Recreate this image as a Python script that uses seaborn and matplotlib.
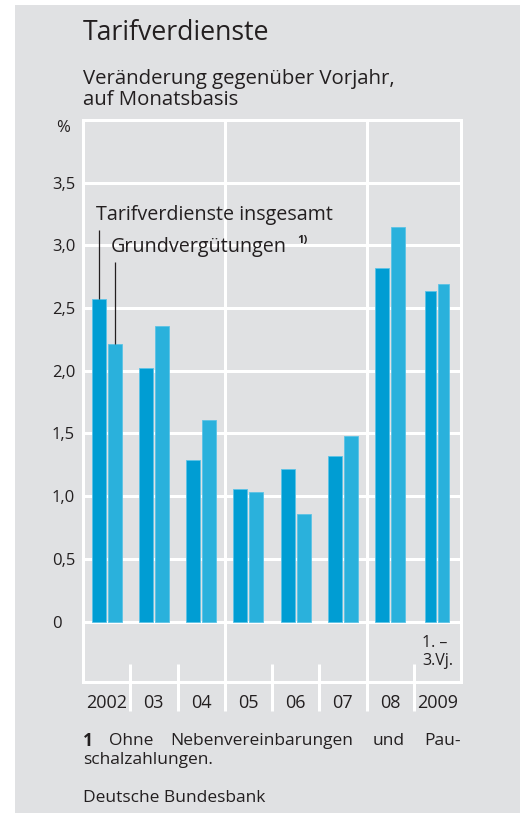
import pandas as pd
import matplotlib.pyplot as plt
import seaborn as sns
from matplotlib.patches import Rectangle

# Data (Veränderung gegenüber Vorjahr in %)
jahre = ["2002", "03", "04", "05", "06", "07", "08", "2009"]
insgesamt = [2.57, 2.02, 1.29, 1.06, 1.22, 1.32, 2.82, 2.64]
grund = [2.21, 2.36, 1.61, 1.03, 0.86, 1.48, 3.15, 2.69]
reihen = ["Tarifverdienste insgesamt", "Grundvergütungen"]
y_ticks = [0, 0.5, 1.0, 1.5, 2.0, 2.5, 3.0, 3.5]
y_labels = ["0", "0,5", "1,0", "1,5", "2,0", "2,5", "3,0", "3,5"]

df = pd.DataFrame({
    "jahr": jahre * 2,
    "wert": insgesamt + grund,
    "reihe": [reihen[0]] * len(jahre) + [reihen[1]] * len(jahre),
})

# Style
sns.set_style("white")
plt.rcParams["font.family"] = ["Open Sans", "DejaVu Sans"]
bg = "#e0e1e3"
dark = "#009dd3"
light = "#2ab1dc"
txt = "#231f20"

fig = plt.figure(figsize=(5.2, 8.13), dpi=100)
fig.patches.append(Rectangle((15 / 520, 0), 1, 1 - 5 / 813, transform=fig.transFigure,
                             facecolor=bg, edgecolor="none", zorder=-10))
ax = fig.add_axes([83 / 520, 1 - 682 / 813, 378 / 520, 562 / 813])
ax.set_facecolor(bg)

sns.barplot(data=df, x="jahr", y="wert", hue="reihe", order=jahre,
            palette=[dark, light], saturation=1, width=0.676, gap=0.125,
            edgecolor="#5cc3e6", linewidth=0.6, legend=False, ax=ax, zorder=3)

# 2009 (1.-3. Vj.) bars are narrower
for p in ax.patches:
    cx = p.get_x() + p.get_width() / 2
    if cx > 6.5:
        off = -0.139 if cx < 7 else 0.139
        p.set_width(0.233)
        p.set_x(7 + off - 0.233 / 2)

ymin, ymax = -0.482, 4.0
ax.set_xlim(-0.5, 7.5)
ax.set_ylim(ymin, ymax)
for s in ax.spines.values():
    s.set_visible(False)

# white frame and grid
lw = 2.2
ax.hlines(y_ticks + [ymax, ymin], -0.5, 7.5, color="white", lw=lw, zorder=1,
          capstyle="projecting", clip_on=False)
ax.vlines([-0.5, 7.5], ymin, ymax, color="white", lw=lw, zorder=1,
          capstyle="projecting", clip_on=False)
ax.vlines([2.5, 5.5], -0.71, ymax, color="white", lw=lw, zorder=1, clip_on=False)
ax.vlines([0.5, 1.5, 3.5, 4.5, 6.5], -0.71, -0.335, color="white", lw=lw,
          zorder=1, clip_on=False)

# ticks
ax.set_yticks(y_ticks)
ax.set_yticklabels(y_labels)
ax.tick_params(axis="y", length=0, pad=22.3, labelsize=12, labelcolor=txt)
for lab in ax.get_yticklabels():
    lab.set_horizontalalignment("left")
ax.set_xticks(range(len(jahre)))
ax.set_xticklabels(jahre)
ax.tick_params(axis="x", length=0, pad=15, labelsize=13, labelcolor=txt)
for lab in ax.get_xticklabels():
    lab.set_verticalalignment("center")
ax.set_xlabel("")
ax.set_ylabel("")

# labels for the series
ax.vlines(-0.169, insgesamt[0], 3.12, color=txt, lw=0.9, zorder=4)
ax.vlines(0.169, grund[0], 2.87, color=txt, lw=0.9, zorder=4)
ax.text(-0.224, 3.24, reihen[0], fontsize=14.2, color=txt, va="center", ha="left")
ax.text(0.093, 2.985, reihen[1], fontsize=14.2, color=txt, va="center", ha="left")
ax.text(4.03, 3.04, "1)", fontsize=8, color=txt, va="center", ha="left", fontweight="bold")
ax.text(6.675, -0.245, "1. \u2013\n3.Vj.", fontsize=11.5, color=txt, va="center", ha="left",
        linespacing=1.2)

# titles
fig.text(83 / 520, 1 - 33 / 813, "Tarifverdienste", fontsize=19.2, color=txt, va="center")
fig.text(83 / 520, 1 - 89.5 / 813, "Veränderung gegenüber Vorjahr,\nauf Monatsbasis",
         fontsize=14.7, color=txt, va="center", linespacing=1.1)
fig.text(56 / 520, 1 - 128 / 813, "%", fontsize=12, color=txt, va="center")

# footnote (justified first line)
fs = 12.5
fy = 1 - 741 / 813
fig.text(83 / 520, fy, "1", fontsize=fs, color=txt, va="center", fontweight="bold")
fig.text(109 / 520, fy, "Ohne", fontsize=fs, color=txt, va="center")
fig.text(170 / 520, fy, "Nebenvereinbarungen", fontsize=fs, color=txt, va="center")
fig.text(373 / 520, fy, "und", fontsize=fs, color=txt, va="center")
fig.text(461 / 520, fy, "Pau-", fontsize=fs, color=txt, va="center", ha="right")
fig.text(83 / 520, 1 - 760 / 813, "schalzahlungen.", fontsize=fs, color=txt, va="center")
fig.text(83 / 520, 1 - 798 / 813, "Deutsche Bundesbank", fontsize=fs, color=txt, va="center")

fig.savefig("out.png", dpi=100, facecolor="white")
